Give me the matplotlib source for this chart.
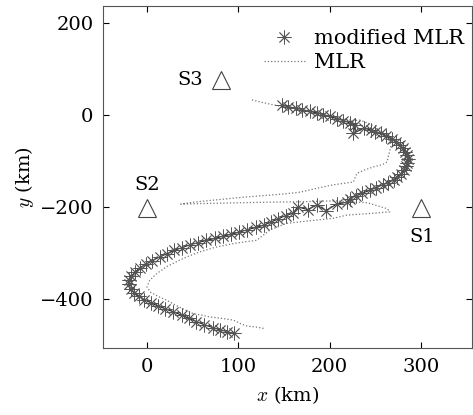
import numpy as np
import matplotlib
matplotlib.use('Agg')
import matplotlib.pyplot as plt
from matplotlib.lines import Line2D

plt.rcParams['font.family'] = ['DejaVu Serif']
plt.rcParams['mathtext.fontset'] = 'cm'

# modified MLR track (km)
mod_x = [148, 155, 163, 170, 178, 186, 193, 200, 208, 215, 222, 228, 226, 238, 245,
         250, 256, 262, 268, 273, 277, 280, 283, 285, 286, 285, 284, 281, 278, 274,
         270, 264, 258, 251, 244, 236, 229, 222, 219, 208, 196, 186, 176, 165, 160,
         152, 144, 136, 128, 119, 110, 101, 92, 83, 74, 65, 56, 47, 38, 30,
         22, 14, 6, -1, -8, -13, -17, -20, -20, -18, -14, -9, -3, 4, 12,
         20, 29, 38, 46, 54, 63, 72, 80, 88, 95]
mod_y = [22, 18, 15, 12, 8, 5, 1, -3, -8, -12, -17, -22, -40, -28, -33,
         -36, -40, -46, -52, -58, -65, -72, -80, -88, -96, -104, -112, -120, -128, -135,
         -141, -147, -152, -158, -164, -170, -176, -182, -190, -194, -208, -196, -206, -200, -214,
         -219, -226, -233, -240, -245, -250, -255, -260, -264, -269, -273, -278, -283, -289, -295,
         -302, -309, -317, -325, -333, -342, -351, -360, -369, -378, -387, -395, -402, -409, -416,
         -422, -429, -436, -443, -450, -457, -463, -468, -472, -476]

# MLR track (km)
mlr_x = [115, 125, 139, 150, 165, 180, 195, 210, 225, 233, 245, 255, 263, 266, 267,
         265, 263, 258, 248, 238, 230, 226, 215, 204, 185, 168, 150, 131, 112, 95,
         70, 50, 37, 80, 130, 168, 204, 241, 263, 266, 241, 219, 204, 180, 153,
         135, 120, 108, 95, 75, 58, 45, 36, 22, 11, 3, 0, 4, 12, 22,
         35, 51, 60, 69, 82, 95, 103, 110, 120, 128]
mlr_y = [33, 28, 22, 18, 12, 6, 0, -6, -12, -11, -20, -35, -47, -58, -69,
         -85, -102, -108, -113, -120, -127, -146, -149, -152, -160, -168, -172, -175, -178, -181,
         -186, -190, -194, -192, -190, -189, -187, -191, -204, -211, -215, -218, -225, -230, -236,
         -250, -273, -276, -280, -288, -298, -308, -316, -330, -345, -360, -375, -386, -395, -404,
         -418, -433, -436, -440, -443, -447, -455, -460, -462, -465]

# stations
st_names = ['S1', 'S2', 'S3']
st_x = [300, 0, 81]
st_y = [-203, -203, 76]
st_lbl_x = [301, 0, 47]
st_lbl_y = [-266, -153, 76]

fig = plt.figure(figsize=(4.73, 4.15), dpi=100)
ax = fig.add_axes([0.218, 0.161, 0.78, 0.825])

ax.plot(mlr_x, mlr_y, linestyle=':', color='#777777', linewidth=0.9)
ax.plot(mod_x, mod_y, color='#222222', linewidth=0.8)
ax.plot(mod_x, mod_y, linestyle='none', marker=(8, 2, 0), markersize=10,
        markeredgecolor='#555555', markeredgewidth=0.6)

ax.plot(st_x, st_y, linestyle='none', marker='^', markersize=13,
        markerfacecolor='none', markeredgecolor='#444444', markeredgewidth=0.8)
for name, lx, ly in zip(st_names, st_lbl_x, st_lbl_y):
    ax.text(lx, ly, name, ha='center', va='center', fontsize=14)

ax.set_xlim(-48, 356)
ax.set_ylim(-508, 238)
ax.set_xticks([0, 100, 200, 300])
ax.set_yticks([-400, -200, 0, 200])
ax.tick_params(direction='in', top=True, right=True, length=4, labelsize=14, pad=7)
for s in ax.spines.values():
    s.set_color('#555555')
ax.set_xlabel(r'$x$ (km)', fontsize=14, labelpad=6)
ax.set_ylabel(r'$y$ (km)', fontsize=14, labelpad=3)

handles = [Line2D([], [], linestyle='none', marker=(8, 2, 0), markersize=10,
                  markeredgecolor='#555555', markeredgewidth=0.6),
           Line2D([], [], linestyle=':', color='#777777', linewidth=0.9)]
ax.legend(handles, ['modified MLR', 'MLR'], loc='upper right', frameon=False,
          fontsize=15, handlelength=2.0, handletextpad=0.4, labelspacing=0.25,
          borderpad=0, borderaxespad=0, bbox_to_anchor=(0.977, 0.932))

fig.savefig('out.png', dpi=100)
